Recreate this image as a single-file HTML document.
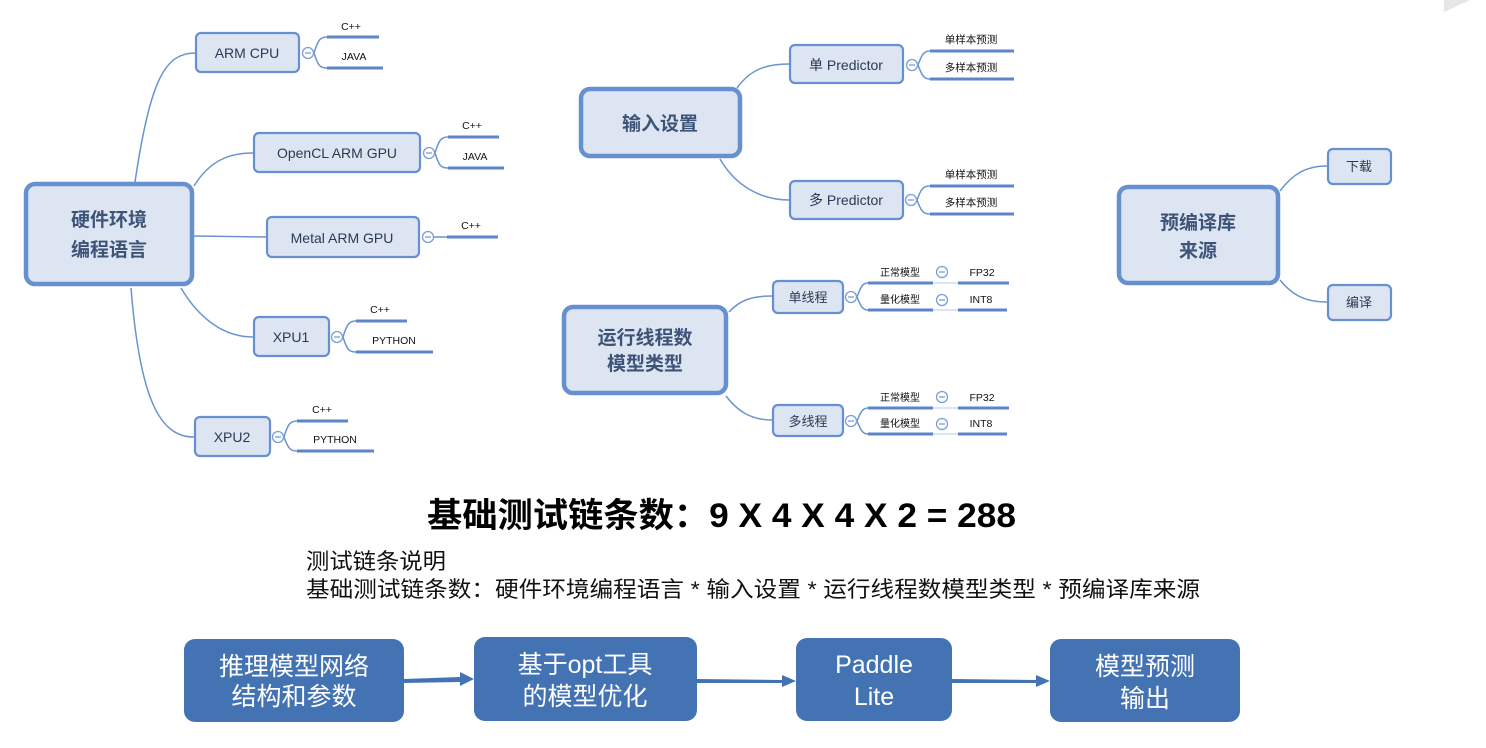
<!DOCTYPE html>
<html><head><meta charset="utf-8"><style>
html,body{margin:0;padding:0;background:#fff;}
svg{display:block;}
text{font-family:"Liberation Sans","Noto Sans CJK SC",sans-serif;}
</style></head><body>
<svg width="1486" height="748" viewBox="0 0 1486 748" xmlns="http://www.w3.org/2000/svg">
<rect width="1486" height="748" fill="#fff"/>
<polygon points="1444,0 1470,0 1444,12" fill="#e6e6e6"/>
<defs>
<g id="c"><circle r="5.5" fill="#fff" stroke="#7a9fd6" stroke-width="1.3"/><line x1="-3" y1="0" x2="3" y2="0" stroke="#7a9fd6" stroke-width="1.3"/></g>
</defs>
<g fill="none" stroke="#6a93d0" stroke-width="1.5">
<path d="M135,182 C150,80 165,53 195,53"/>
<path d="M194,186 C210,160 230,153 253,153"/>
<path d="M194,236 L266,237"/>
<path d="M181,288 C200,320 225,337 253,337"/>
<path d="M131,288 C140,400 160,437 194,437"/>
<path d="M314,53 C318,40 320,37 327,37 M314,53 C318,66 320,68 327,68"/>
<path d="M435,153 C439,140 441,137 448,137 M435,153 C439,166 441,168 448,168"/>
<path d="M434,237 L447,237"/>
<path d="M343,337 C347,324 349,321 356,321 M343,337 C347,350 349,352 356,352"/>
<path d="M284,437 C288,424 290,421 297,421 M284,437 C288,448 290,451 297,451"/>
<path d="M737,88 C750,70 765,64 789,64"/>
<path d="M720,159 C735,185 760,200 789,200"/>
<path d="M918,65 C922,54 924,51 930,51 M918,65 C922,76 924,79 930,79"/>
<path d="M917,200 C921,189 923,186 930,186 M917,200 C921,211 923,214 930,214"/>
<path d="M729,312 C740,300 752,296 772,296"/>
<path d="M726,396 C738,412 752,420 772,420"/>
<path d="M857,297 C861,286 863,283 868,283 M857,297 C861,307 863,310 868,310"/>
<path d="M857,421 C861,411 863,408 868,408 M857,421 C861,431 863,434 868,434"/>
<path d="M933,283 L958,283 M933,310 L958,310 M933,408 L958,408 M933,434 L958,434" stroke="#b9cbe8" stroke-width="1"/>
<path d="M1280,191 C1292,175 1305,166 1327,166"/>
<path d="M1280,280 C1292,295 1305,302 1327,302"/>
</g>
<g stroke="#5b86c9" stroke-width="3" fill="none">
<path d="M327,37 H379 M327,68 H383"/>
<path d="M448,137 H499 M448,168 H504"/>
<path d="M447,237 H498"/>
<path d="M356,321 H407 M356,352 H433"/>
<path d="M297,421 H348 M297,451 H374"/>
<path d="M930,51 H1014 M930,79 H1014 M930,186 H1014 M930,214 H1014"/>
<path d="M868,283 H933 M958,283 H1009 M868,310 H933 M958,310 H1007"/>
<path d="M868,408 H933 M958,408 H1009 M868,434 H933 M958,434 H1007"/>
</g>
<use href="#c" x="308" y="53"/><use href="#c" x="429" y="153"/><use href="#c" x="428" y="237"/>
<use href="#c" x="337" y="337"/><use href="#c" x="278" y="437"/>
<use href="#c" x="912" y="65"/><use href="#c" x="911" y="200"/>
<use href="#c" x="851" y="297"/><use href="#c" x="851" y="421"/>
<use href="#c" x="942" y="272"/><use href="#c" x="942" y="300"/><use href="#c" x="942" y="397"/><use href="#c" x="942" y="424"/>
<g fill="#dde5f2" stroke="#6690d0" stroke-width="4.5">
<rect x="26" y="184" width="166" height="100" rx="9"/>
<rect x="581" y="89" width="159" height="67" rx="9"/>
<rect x="564" y="307" width="162" height="86" rx="9"/>
<rect x="1119" y="187" width="159" height="96" rx="9"/>
</g>
<g fill="#dde5f2" stroke="#6690d0" stroke-width="2.2">
<rect x="196" y="33" width="103" height="39" rx="5"/>
<rect x="254" y="133" width="166" height="39" rx="5"/>
<rect x="267" y="217" width="152" height="40" rx="5"/>
<rect x="254" y="317" width="75" height="39" rx="5"/>
<rect x="195" y="417" width="75" height="39" rx="5"/>
<rect x="790" y="45" width="113" height="38" rx="5"/>
<rect x="790" y="181" width="113" height="38" rx="5"/>
<rect x="773" y="281" width="70" height="32" rx="5"/>
<rect x="773" y="405" width="70" height="31" rx="5"/>
<rect x="1328" y="149" width="63" height="35" rx="5"/>
<rect x="1328" y="285" width="63" height="35" rx="5"/>
</g>
<g fill="#3d5478" font-weight="bold" font-size="19" text-anchor="middle">
<text x="109" y="226">硬件环境</text><text x="109" y="256">编程语言</text>
<text x="660" y="130">输入设置</text>
<text x="645" y="344">运行线程数</text><text x="645" y="370">模型类型</text>
<text x="1198" y="229">预编译库</text><text x="1198" y="257">来源</text>
</g>
<g fill="#2a3a55" font-size="14" text-anchor="middle">
<text x="247" y="58">ARM CPU</text>
<text x="337" y="158">OpenCL ARM GPU</text>
<text x="342" y="243">Metal  ARM GPU</text>
<text x="291" y="342">XPU1</text>
<text x="232" y="442">XPU2</text>
<text x="846" y="70">单 Predictor</text>
<text x="846" y="205">多 Predictor</text>
<text x="808" y="302" font-size="13">单线程</text>
<text x="808" y="426" font-size="13">多线程</text>
<text x="1359" y="171" font-size="13">下载</text>
<text x="1359" y="307" font-size="13">编译</text>
</g>
<g fill="#111" font-size="10.5" text-anchor="middle">
<text x="351" y="30">C++</text><text x="354" y="60">JAVA</text>
<text x="472" y="129">C++</text><text x="475" y="160">JAVA</text>
<text x="471" y="229">C++</text>
<text x="380" y="313">C++</text><text x="394" y="344">PYTHON</text>
<text x="322" y="413">C++</text><text x="335" y="443">PYTHON</text>
<text x="971" y="43">单样本预测</text><text x="971" y="71">多样本预测</text>
<text x="971" y="178">单样本预测</text><text x="971" y="206">多样本预测</text>
<text x="900" y="276" font-size="10">正常模型</text><text x="982" y="276">FP32</text>
<text x="900" y="303" font-size="10">量化模型</text><text x="981" y="303">INT8</text>
<text x="900" y="401" font-size="10">正常模型</text><text x="982" y="401">FP32</text>
<text x="900" y="427" font-size="10">量化模型</text><text x="981" y="427">INT8</text>
</g>
<text x="427" y="527" font-size="34" font-weight="bold" fill="#000" textLength="589" lengthAdjust="spacingAndGlyphs">基础测试链条数：9 X 4 X 4 X 2 = 288</text>
<text x="306" y="569" font-size="22" fill="#111" textLength="140" lengthAdjust="spacingAndGlyphs">测试链条说明</text>
<text x="306" y="597" font-size="22" fill="#111" textLength="894" lengthAdjust="spacingAndGlyphs">基础测试链条数：硬件环境编程语言 * 输入设置 * 运行线程数模型类型 * 预编译库来源</text>
<g fill="#4473b4">
<rect x="184" y="639" width="220" height="83" rx="11"/>
<rect x="474" y="637" width="223" height="84" rx="11"/>
<rect x="796" y="638" width="156" height="83" rx="11"/>
<rect x="1050" y="639" width="190" height="83" rx="11"/>
<path d="M404,679 L460,677 L460,672 L474,679 L460,686 L460,682 L404,683 Z"/>
<path d="M697,679 L782,680 L782,675 L796,681 L782,687 L782,683 L697,683 Z"/>
<path d="M952,679 L1036,680 L1036,675 L1050,681 L1036,687 L1036,683 L952,683 Z"/>
</g>
<g fill="#fff" font-size="25" text-anchor="middle">
<text x="294" y="675">推理模型网络</text><text x="294" y="705">结构和参数</text>
<text x="585" y="673">基于opt工具</text><text x="585" y="705">的模型优化</text>
<text x="874" y="673">Paddle</text><text x="874" y="705">Lite</text>
<text x="1145" y="675">模型预测</text><text x="1145" y="707">输出</text>
</g>
</svg>
</body></html>
